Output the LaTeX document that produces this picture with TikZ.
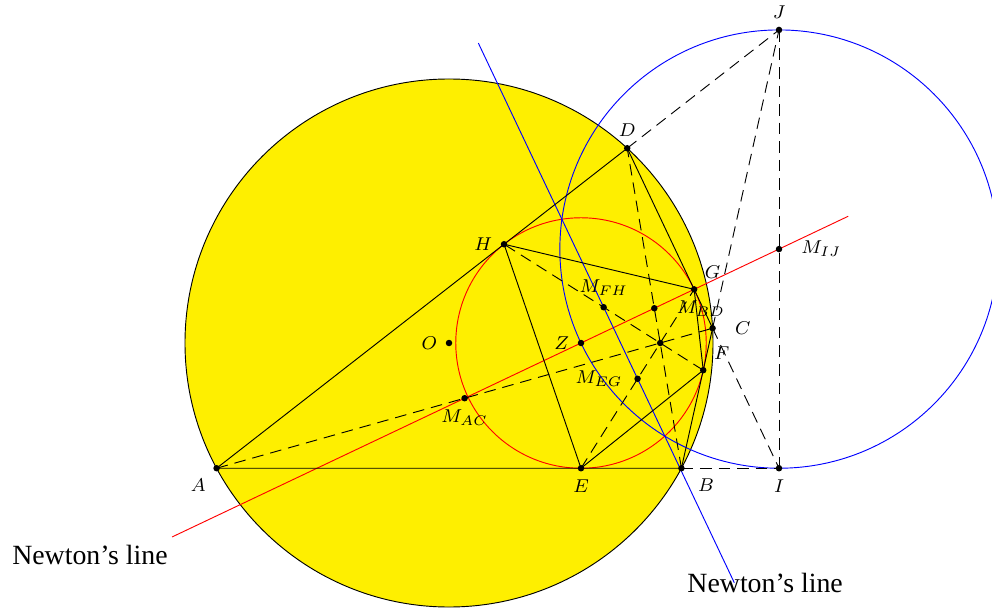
\documentclass[tikz,border=0pt]{standalone}
\usepackage{fontspec}
\setmainfont{Liberation Serif}
\usetikzlibrary{calc}

\definecolor{disc}{RGB}{254,239,0}

\begin{document}
\begin{tikzpicture}[
    pt/.style={circle, fill=black, inner sep=0pt, minimum size=2.8pt, label distance=0.08cm},
    every label/.style={font=\footnotesize},
    aux/.style={dash pattern=on 5pt off 3pt},
    newton/.style={font=\fontsize{12}{14}\selectfont}
]
\useasboundingbox (-6.803,-4.061) rectangle (8.227,5.197);

% bicentric quadrilateral ABCD
\coordinate (O) at (0,0);
\coordinate (Z) at (2,0);
\coordinate (A) at (-3.5214,-1.8974);
\coordinate (B) at (3.5214,-1.8974);
\coordinate (C) at (3.9937,0.2241);
\coordinate (D) at (2.7002,2.9511);
% points of contact
\coordinate (E) at (2,-1.8974);
\coordinate (F) at (3.8520,-0.4124);
\coordinate (G) at (3.7143,0.8131);
\coordinate (H) at (0.8337,1.4966);
% opposite sides meet
\coordinate (I) at (5,-1.8974);
\coordinate (J) at (5,4.7434);
\coordinate (P) at (3.2,0);
% midpoints
\coordinate (MAC) at ($(A)!0.5!(C)$);
\coordinate (MBD) at ($(B)!0.5!(D)$);
\coordinate (MFH) at ($(F)!0.5!(H)$);
\coordinate (MEG) at ($(E)!0.5!(G)$);
\coordinate (MIJ) at ($(I)!0.5!(J)$);
% ends of the two lines
\coordinate (r1) at ($(MAC)!-0.93!(MIJ)$);
\coordinate (r2) at ($(MAC)!1.22!(MIJ)$);
\coordinate (b1) at ($(MFH)!-3.69!(MEG)$);
\coordinate (b2) at ($(MFH)!3.85!(MEG)$);

% circles
\fill[disc] (O) circle (4);
\draw (O) circle (4);
\draw[red] (Z) circle (1.8974);
\draw[blue] (MIJ) circle (3.3204);

% Newton's lines
\draw[red] (r1) -- (r2);
\draw[blue] (b1) -- (b2);
\node[newton] (nlred) at (-5.44,-3.205) {Newton's line};
\node[newton] (nlblue) at (4.79,-3.636) {Newton's line};

% sides
\draw (A) -- (B) -- (C) -- (D) -- cycle;
\draw (E) -- (F) -- (G) -- (H) -- cycle;

% diagonals and extensions
\draw[aux] (A) -- (C);
\draw[aux] (B) -- (D);
\draw[aux] (E) -- (G);
\draw[aux] (F) -- (H);
\draw[aux] (B) -- (I);
\draw[aux] (C) -- (I);
\draw[aux] (C) -- (J);
\draw[aux] (D) -- (J);
\draw[aux] (J) -- (I);

% points
\node[pt, label=below left:$A$] (pA) at (A) {};
\node[pt, label={[xshift=2.5pt]below right:$B$}] (pB) at (B) {};
\node[pt, label={[label distance=0.16cm]right:$C$}] (pC) at (C) {};
\node[pt, label=above:$D$] (pD) at (D) {};
\node[pt, label=below:$E$] (pE) at (E) {};
\node[pt, label=above right:$F$] (pF) at (F) {};
\node[pt, label=above right:$G$] (pG) at (G) {};
\node[pt, label=left:$H$] (pH) at (H) {};
\node[pt, label=below:$I$] (pI) at (I) {};
\node[pt, label=above:$J$] (pJ) at (J) {};
\node[pt, label=left:$O$] (pO) at (O) {};
\node[pt, label=left:$Z$] (pZ) at (Z) {};
\node[pt] (pP) at (P) {};
\node[pt, label=below:$M_{AC}$] (pMAC) at (MAC) {};
\node[pt, label={[label distance=0.16cm]right:$M_{BD}$}] (pMBD) at (MBD) {};
\node[pt, label=above:$M_{FH}$] (pMFH) at (MFH) {};
\node[pt, label={[label distance=0.05cm]left:$M_{EG}$}] (pMEG) at (MEG) {};
\node[pt, label={[label distance=0.16cm]right:$M_{IJ}$}] (pMIJ) at (MIJ) {};

\end{tikzpicture}
\end{document}
